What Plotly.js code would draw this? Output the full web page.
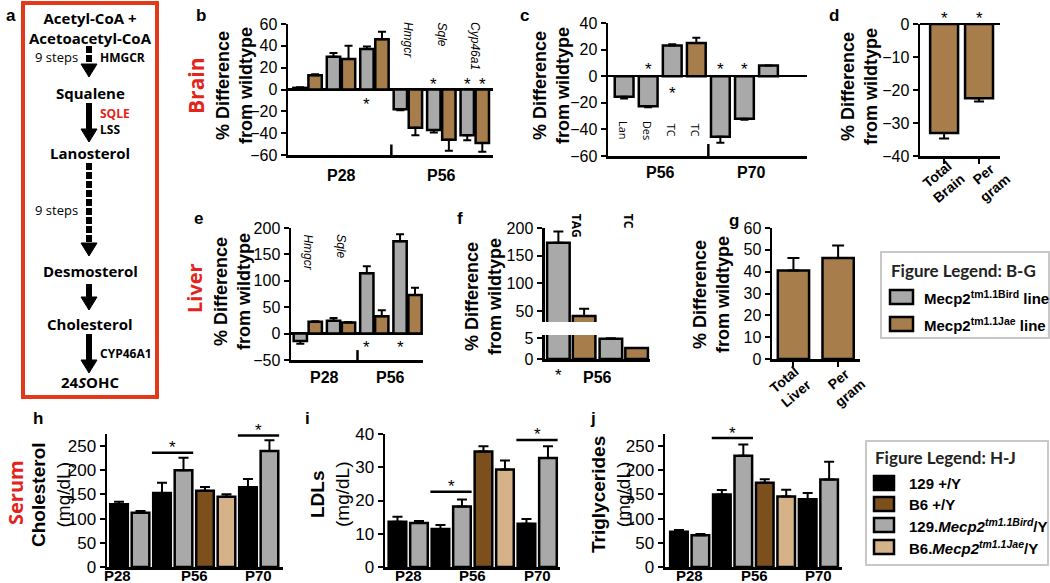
<!DOCTYPE html>
<html><head><meta charset="utf-8">
<script src="https://cdn.plot.ly/plotly-3.0.1.min.js"></script>
<style>html,body{margin:0;padding:0;background:#fff}#chart{width:1050px;height:583px}</style>
</head><body><div id="chart"></div>
<script>
// ================= DATA =================
// Panel a: cholesterol pathway
const compounds = ['Acetyl-CoA +<br>Acetoacetyl-CoA','Squalene','Lanosterol','Desmosterol','Cholesterol','24<i>S</i>OHC'];
const stepEnzymes = [['HMGCR'],['SQLE','LSS'],[],[],['CYP46A1']];
const stepCounts = ['9 steps','','9 steps','',''];
const stepDashed = [true,false,true,false,false];
const highlightedEnzymes = ['SQLE'];

// Lines (panels b-g)
const lineNames = ['Mecp2<sup>tm1.1Bird</sup> line','Mecp2<sup>tm1.1Jae</sup> line'];

// Panel b: Brain gene expression
const bCategories = ['P28 Hmgcr','P28 Sqle','P28 Cyp46a1','P56 Hmgcr','P56 Sqle','P56 Cyp46a1'];
const bGeneLabels = {'P56 Hmgcr':'Hmgcr','P56 Sqle':'Sqle','P56 Cyp46a1':'Cyp46a1'};
const bBird = [1.5, 30, 37, -18, -37, -42];
const bBirdErr = [0.5, 3.5, 2.5, 1, 2.5, 4.5];
const bJae = [13, 28, 46, -35, -46, -49];
const bJaeErr = [1, 12, 7, 7, 10, 8];
const bStarsBird = ['P28 Cyp46a1','P56 Sqle','P56 Cyp46a1'];
const bStarsJae = ['P56 Cyp46a1'];
const bGroups = ['P28','P56'];

// Panel c: Brain sterols
const cCategories = ['P56 Lan','P56 Des','P56 TC Bird','P56 TC Jae','P70 Lan','P70 Des','P70 TC'];
const cLabels = ['Lan','Des','TC','TC','','',''];
const cLine = ['Bird','Bird','Bird','Jae','Bird','Bird','Bird'];
const cValues = [-15.5, -22.5, 23, 25, -45.5, -32, 8];
const cErrors = [1.2, 0.8, 1, 4, 4.5, 0.8, 0];
const cStars = ['P56 Des','P56 TC Bird','P70 Lan','P70 Des'];
const cGroups = ['P56','P70'];

// Panel d: Brain weight
const dCategories = ['Total<br>Brain','Per<br>gram'];
const dValues = [-33, -22.5];
const dErrors = [1.7, 1];
const dStars = ['Total<br>Brain','Per<br>gram'];

// Panel e: Liver gene expression
const eCategories = ['P28 Hmgcr','P28 Sqle','P56 Hmgcr','P56 Sqle'];
const eGeneLabels = {'P28 Hmgcr':'Hmgcr','P28 Sqle':'Sqle'};
const eBird = [-14, 24.5, 114.5, 175];
const eBirdErr = [5, 5, 13, 13];
const eJae = [22.5, 21, 33, 73];
const eJaeErr = [1, 1, 11, 14];
const eStarsBird = ['P56 Hmgcr','P56 Sqle'];
const eGroups = ['P28','P56'];

// Panel f: Liver lipids (broken axis)
const fCategories = ['TAG','TC'];
const fBird = [173.5, 4.8];
const fBirdErr = [20, 0.1];
const fJae = [41, 2.6];
const fJaeErr = [13, 0];
const fStarsBird = ['TAG'];
const fGroup = 'P56';

// Panel g: Liver weight
const gCategories = ['Total<br>Liver','Per<br>gram'];
const gValues = [40.5, 46.3];
const gErrors = [5.8, 5.7];

// Panels h-j: Serum
const genotypes = ['129 +/Y','B6 +/Y','129.Mecp2/Y','B6.Mecp2/Y'];
const genotypeLabels = ['129 +/Y','B6 +/Y','129.<i>Mecp2</i><sup><i>tm1.1Bird</i></sup>/Y','B6.<i>Mecp2</i><sup><i>tm1.1Jae</i></sup>/Y'];
const serumAges = ['P28','P28','P56','P56','P56','P56','P70','P70'];
const serumGenotype = ['129 +/Y','129.Mecp2/Y','129 +/Y','129.Mecp2/Y','B6 +/Y','B6.Mecp2/Y','129 +/Y','129.Mecp2/Y'];
const serumGroups = ['P28','P56','P70'];
const cholValues = [130, 112, 153, 200, 157.5, 145, 165, 240];
const cholErrors = [5, 4, 21, 26, 8, 5.5, 17, 22];
const ldlValues = [13.6, 13.2, 11.4, 18.2, 34.7, 29.3, 13, 32.8];
const ldlErrors = [1.5, 0.6, 1.2, 2.1, 1.6, 2.7, 1.4, 3.5];
const tgValues = [73, 65.5, 150, 230, 174, 146, 140, 181];
const tgErrors = [3.5, 2.5, 9, 23.5, 7.6, 13.8, 13, 36.5];
const cholSig = [{age:'P56', level:236},{age:'P70', level:272}];
const ldlSig = [{age:'P56', level:22.6},{age:'P70', level:38.2}];
const tgSig = [{age:'P56', level:266.5}];

// ================= STYLE =================
const W = 1050, H = 583;
const ARIAL = 'Liberation Sans, Arial, sans-serif';
const OPEN = 'Open Sans, sans-serif';
const RED = '#e3241b';
const lineColors = {Bird:'#a9a9a9', Jae:'#a67d4b'};
const genotypeColors = {'129 +/Y':'#000000','B6 +/Y':'#7c501c','129.Mecp2/Y':'#a9a9a9','B6.Mecp2/Y':'#d5b287'};
const px = x => x / W;
const py = y => 1 - y / H;
const xdom = (a, b) => [a / W, b / W];
const ydom = (top, bottom) => [1 - bottom / H, 1 - top / H];

const annotations = [];
const shapes = [];
function note(o) {
  annotations.push(Object.assign({showarrow:false, xanchor:'center', yanchor:'middle'}, o));
}
function ptext(x, y, text, font, extra) {
  note(Object.assign({xref:'paper', yref:'paper', x:px(x), y:py(y), text, font}, extra || {}));
}

function errUp(v, e) { return v.map((x, i) => x >= 0 ? e[i] : 0); }
function errDown(v, e) { return v.map((x, i) => x < 0 ? e[i] : 0); }
function bars(x, y, err, color, xa, ya, width, offset, capw) {
  const t = {type:'bar', x, y, xaxis:xa, yaxis:ya, width,
    marker:{color, line:{color:'#000', width:2.5}},
    error_y:{type:'data', symmetric:false, array:errUp(y, err), arrayminus:errDown(y, err), color:'#000', thickness:2, width:capw || 4},
    hoverinfo:'skip', showlegend:false};
  if (offset !== undefined) t.offset = offset;
  return t;
}

function catX(cats, dom, range, anchor, extra) {
  return Object.assign({type:'category', categoryorder:'array', categoryarray:cats, domain:dom, range, anchor,
    showline:true, linecolor:'#000', linewidth:2.5, ticks:'', showticklabels:false, showgrid:false, zeroline:false, fixedrange:true}, extra || {});
}
function linY(dom, range, dtick, anchor, extra) {
  return Object.assign({domain:dom, range, dtick, tick0:0, anchor, showline:true, linecolor:'#000', linewidth:2.5,
    ticks:'outside', ticklen:5, tickwidth:2, tickcolor:'#000', showgrid:false, zeroline:false, fixedrange:true,
    tickfont:{family:ARIAL, size:16, color:'#000'}}, extra || {});
}
const zl = {zeroline:true, zerolinecolor:'#000', zerolinewidth:2.5};
const DIFF = '% Difference<br>from wildtype';
const titleFont = {family:ARIAL, size:18, weight:'bold', color:'#000'};
const grpFont = {family:ARIAL, size:16, weight:'bold', color:'#000'};
const starFont = {family:ARIAL, size:17, color:'#000'};

// rotated y-axis title placed beside the axis
function yTitle(xc, yc, text, font) { ptext(xc, yc, text, font || titleFont, {textangle:-90}); }

// group label under axis (category index mean)
function groupLabel(cats, group, xa, ya, dist, font, xshift) {
  const idx = cats.map((c, i) => c.startsWith(group) ? i : -1).filter(i => i >= 0);
  const mid = idx.reduce((s, v) => s + v, 0) / idx.length;
  note({xref:xa, yref:ya + ' domain', x:mid, y:0, yshift:-dist, xshift:xshift || 0, text:group, font:font || grpFont});
}
// star on opposite side of zero line
function star(cats, cat, shift, values, xa, ya, gap) {
  const i = cats.indexOf(cat);
  const v = values[i];
  const ys = v >= 0 ? -(gap + 5) : (gap - 5);
  note({xref:xa, yref:ya, x:i + shift, y:0, yshift:ys, text:'*', font:starFont});
}
function sepTick(xa, ya, at, len) {
  shapes.push({type:'line', xref:xa, yref:ya + ' domain', x0:at, x1:at, y0:0, y1:len, line:{color:'#000', width:2.5}});
}
// rotated category labels under an axis
function slantLabels(cats, xa, ya, dist, shifts) {
  cats.forEach((c, i) => note({xref:xa, yref:ya + ' domain', x:i, y:0, xshift:shifts[i], yshift:-dist, text:c, textangle:-40,
    font:{family:ARIAL, size:14, weight:'bold', color:'#000'}}));
}

const traces = [];
const layout = {width:W, height:H, margin:{l:0, r:0, t:0, b:0}, paper_bgcolor:'#fff', plot_bgcolor:'rgba(0,0,0,0)',
  showlegend:false, barmode:'group', font:{family:ARIAL, color:'#000'}};

// ---------- Panel b ----------
layout.xaxis = catX(bCategories, xdom(288, 493), [-0.59, 5.54], 'y');
layout.yaxis = linY(ydom(24, 155), [-60, 60], 20, 'x', zl);
traces.push(bars(bCategories, bBird, bBirdErr, lineColors.Bird, 'x', 'y', 0.40, -0.43));
traces.push(bars(bCategories, bJae, bJaeErr, lineColors.Jae, 'x', 'y', 0.40, 0.02));
bStarsBird.forEach(c => star(bCategories, c, -0.23, bBird, 'x', 'y', 10));
bStarsJae.forEach(c => star(bCategories, c, 0.22, bJae, 'x', 'y', 10));
Object.keys(bGeneLabels).forEach(c => note({xref:'x', yref:'y domain', x:bCategories.indexOf(c), y:1, yanchor:'top', yshift:4,
  text:'<i>' + bGeneLabels[c] + '</i>', textangle:90, font:{family:ARIAL, size:12, color:'#000'}}));
bGroups.forEach(g => groupLabel(bCategories, g, 'x', 'y', 20));
sepTick('x', 'y', 2.5, 0.08);
yTitle(234, 86, DIFF);

// ---------- Panel c ----------
layout.xaxis2 = catX(cCategories, xdom(608, 807), [-0.67, 7.6], 'y2');
layout.yaxis2 = linY(ydom(23, 156), [-60, 40], 20, 'x2', zl);
traces.push(bars(cCategories, cValues, cErrors, cLine.map(l => lineColors[l]), 'x2', 'y2', 0.78));
cStars.forEach(c => star(cCategories, c, 0, cValues, 'x2', 'y2', 12));
cLabels.forEach((l, i) => { if (l) note({xref:'x2', yref:'y2 domain', x:i, y:0.195, text:l, textangle:90, font:{family:OPEN, size:11, color:'#000'}}); });
groupLabel(cCategories, 'P56', 'x2', 'y2', 16);
groupLabel(cCategories, 'P70', 'x2', 'y2', 16, null, 7);
sepTick('x2', 'y2', 3.5, 0.09);
yTitle(551, 86, DIFF);

// ---------- Panel d ----------
layout.xaxis3 = catX(dCategories, xdom(920, 1000), [-0.69, 1.6], 'y3',
  {ticks:'outside', ticklen:5, tickwidth:2, tickcolor:'#000'});
layout.yaxis3 = linY(ydom(24, 156), [-40, 0], 10, 'x3', zl);
traces.push(bars(dCategories, dValues, dErrors, lineColors.Jae, 'x3', 'y3', 0.8, undefined, 5));
dStars.forEach(c => star(dCategories, c, 0, dValues, 'x3', 'y3', 11));
slantLabels(dCategories, 'x3', 'y3', 25, [-1, 10]);
yTitle(859, 87, DIFF);

// ---------- Panel e ----------
layout.xaxis4 = catX(eCategories, xdom(291, 423), [-0.5, 3.47], 'y4');
layout.yaxis4 = linY(ydom(228, 360), [-50, 200], 50, 'x4', zl);
traces.push(bars(eCategories, eBird, eBirdErr, lineColors.Bird, 'x4', 'y4', 0.40, -0.42));
traces.push(bars(eCategories, eJae, eJaeErr, lineColors.Jae, 'x4', 'y4', 0.40, 0.03));
eStarsBird.forEach(c => star(eCategories, c, -0.22, eBird, 'x4', 'y4', 9));
Object.keys(eGeneLabels).forEach(c => note({xref:'x4', yref:'y4 domain', x:eCategories.indexOf(c), y:1, yanchor:'top', yshift:-4,
  text:'<i>' + eGeneLabels[c] + '</i>', textangle:90, font:{family:ARIAL, size:12, color:'#000'}}));
eGroups.forEach(g => groupLabel(eCategories, g, 'x4', 'y4', 17));
sepTick('x4', 'y4', 1.5, 0.075);
yTitle(232, 292, DIFF);

// ---------- Panel f (broken axis) ----------
layout.xaxis5 = catX(fCategories, xdom(545, 650), [-0.5, 1.5], 'y5');
layout.yaxis5 = linY(ydom(335, 359), [0, 5.7], 5, 'x5', {linewidth:3.5});
layout.xaxis6 = catX(fCategories, xdom(545, 650), [-0.5, 1.5], 'y6', {visible:false, showline:false});
layout.yaxis6 = linY(ydom(228, 322), [30, 200], 50, 'x6', {tickvals:[50, 100, 150, 200], linewidth:3.5});
traces.push(bars(fCategories, fBird, fBirdErr, lineColors.Bird, 'x5', 'y5', 0.43, -0.46, 5));
traces.push(bars(fCategories, fJae, fJaeErr, lineColors.Jae, 'x5', 'y5', 0.43, 0.03, 5));
traces.push(bars(fCategories, fBird, fBirdErr, lineColors.Bird, 'x6', 'y6', 0.43, -0.46, 5));
traces.push(bars(fCategories, fJae, fJaeErr, lineColors.Jae, 'x6', 'y6', 0.43, 0.03, 5));
fStarsBird.forEach(c => star(fCategories, c, -0.25, fBird, 'x5', 'y5', 11));
fCategories.forEach((c, i) => note({xref:'x6', yref:'y6 domain', x:i, y:1, xshift:5, yanchor:'top', yshift:16,
  text:c, textangle:90, font:{family:OPEN, size:12, weight:'bold', color:'#000'}}));
note({xref:'x5', yref:'y5 domain', x:0.5, y:0, yshift:-19, text:fGroup, font:grpFont});
yTitle(483, 297, DIFF);

// ---------- Panel g ----------
layout.xaxis7 = catX(gCategories, xdom(772, 860), [-0.48, 1.49], 'y7',
  {ticks:'outside', ticklen:5, tickwidth:2, tickcolor:'#000'});
layout.yaxis7 = linY(ydom(228, 359), [0, 60], 10, 'x7');
traces.push(bars(gCategories, gValues, gErrors, lineColors.Jae, 'x7', 'y7', 0.7, undefined, 6));
slantLabels(gCategories, 'x7', 'y7', 27, [-3, 6]);
yTitle(711, 295, DIFF);

// ---------- Panels h, i, j ----------
const serumCategories = serumAges.map((a, i) => a + ' ' + serumGenotype[i]);
const serumColors = serumGenotype.map(g => genotypeColors[g]);
const serumGrpFont = {family:ARIAL, size:15, weight:'bold', color:'#000'};
function serumPanel(n, dom, range, dtick, vals, errs, sig, title, titleX, firstShift) {
  const xa = 'x' + n, ya = 'y' + n;
  layout['xaxis' + n] = catX(serumCategories, dom, range, ya);
  layout['yaxis' + n] = linY(ydom(434, 567), [0, dtick === 10 ? 40 : 275], dtick, xa,
    {tickfont:{family:ARIAL, size:17, color:'#000'}});
  traces.push(bars(serumCategories, vals, errs, serumColors, xa, ya, 0.82, undefined, 5));
  serumGroups.forEach((g, k) => groupLabel(serumCategories, g, xa, ya, 8, serumGrpFont, k === 0 ? firstShift : 0));
  sig.forEach(s => {
    const i0 = serumCategories.indexOf(s.age + ' 129 +/Y');
    const i1 = serumCategories.indexOf(s.age + ' 129.Mecp2/Y');
    shapes.push({type:'line', xref:xa, yref:ya, x0:i0 - 0.47, x1:i1 + 0.45, y0:s.level, y1:s.level, line:{color:'#000', width:2.5}});
    note({xref:xa, yref:ya, x:(i0 + i1) / 2, y:s.level, yshift:5, text:'*', font:starFont});
  });
  yTitle(titleX, 495, title, {family:ARIAL, size:19, color:'#000'});
}
serumPanel(8, xdom(107, 283), [-0.56, 7.63], 50, cholValues, cholErrors, cholSig, '<b>Cholesterol</b><br>(mg/dL)', 51, -12);
serumPanel(9, xdom(385, 560), [-0.58, 7.56], 10, ldlValues, ldlErrors, ldlSig, '<b>LDLs</b><br>(mg/dL)', 330, 0);
serumPanel(10, xdom(665, 842), [-0.65, 7.6], 50, tgValues, tgErrors, tgSig, '<b>Triglycerides</b><br>(mg/dL)', 611, 0);

// ---------- Tissue labels ----------
const tissueFont = {family:OPEN, size:21, weight:'bold', color:RED};
ptext(196, 86, 'Brain', tissueFont, {textangle:-90});
ptext(195, 288, 'Liver', Object.assign({}, tissueFont, {size:20}), {textangle:-90});
ptext(15, 493, 'Serum', Object.assign({}, tissueFont, {size:20}), {textangle:-90});

// ---------- Panel letters ----------
const letterFont = {family:ARIAL, size:17, weight:'bold', color:'#000'};
[['a', 11, 15], ['b', 201, 15], ['c', 524, 15], ['d', 834, 15], ['e', 198, 218], ['f', 460, 218], ['g', 734, 220],
 ['h', 38, 418], ['i', 307, 418], ['j', 593, 418]].forEach(l => ptext(l[1], l[2], l[0], letterFont));

// ---------- Panel a pathway ----------
shapes.push({type:'rect', xref:'paper', yref:'paper', x0:px(23), x1:px(157), y0:py(3), y1:py(397), line:{color:'#e2391b', width:4}});
const compoundY = [28, 93, 153, 271, 324, 382];
const arrowSpan = [[46, 77], [103, 142], [163, 256], [284, 310], [334, 373]];
const enzymeY = [58, 122, null, null, 353];
const stepCountY = [57, null, 210, null, null];
const AX = 89;
compounds.forEach((c, i) => ptext(90, compoundY[i], c, {family:OPEN, size:15, weight:'bold', color:'#000'}));
arrowSpan.forEach((s, i) => {
  shapes.push({type:'line', xref:'paper', yref:'paper', x0:px(AX), x1:px(AX), y0:py(s[0]), y1:py(s[1] - 11),
    line:{color:'#000', width:6, dash:stepDashed[i] ? '7px,2px' : 'solid'}});
  shapes.push({type:'path', xref:'paper', yref:'paper', fillcolor:'#000', line:{color:'#000', width:1},
    path:'M' + px(AX - 8) + ',' + py(s[1] - 13) + ' L' + px(AX + 8) + ',' + py(s[1] - 13) + ' L' + px(AX) + ',' + py(s[1]) + ' Z'});
  if (stepEnzymes[i].length) {
    const txt = stepEnzymes[i].map(e => highlightedEnzymes.includes(e) ? '<span style="color:' + RED + '">' + e + '</span>' : e).join('<br>');
    ptext(98, enzymeY[i], txt, {family:OPEN, size:12, weight:'bold', color:'#000'}, {xanchor:'left', align:'left'});
  }
  if (stepCounts[i]) ptext(56, stepCountY[i], stepCounts[i], {family:OPEN, size:13, color:'#000'});
});

// ---------- Legends ----------
const legTitleFont = {family:'Lato, Open Sans, sans-serif', size:17, weight:'bold', color:'#222'};
const legItemFont = {family:ARIAL, size:15, weight:'bold', color:'#000'};
function legend(box, titleText, titleY, items, colors, swX, swW, swH, itemY, textX) {
  shapes.push({type:'rect', xref:'paper', yref:'paper', x0:px(box[0]), x1:px(box[1]), y0:py(box[2]), y1:py(box[3]),
    line:{color:'#c8c8c8', width:2}, fillcolor:'rgba(0,0,0,0)'});
  ptext(swX, titleY, titleText, legTitleFont, {xanchor:'left'});
  items.forEach((t, k) => {
    shapes.push({type:'rect', xref:'paper', yref:'paper', x0:px(swX + 1), x1:px(swX + 1 + swW), y0:py(itemY[k] - swH / 2), y1:py(itemY[k] + swH / 2),
      fillcolor:colors[k], line:{color:'#000', width:2.5}});
    ptext(textX, itemY[k], t, legItemFont, {xanchor:'left'});
  });
}
legend([881, 1049, 252, 338], 'Figure Legend: B-G', 270, lineNames, [lineColors.Bird, lineColors.Jae], 889, 23, 14, [297, 324], 922);
legend([866, 1048, 441, 565], 'Figure Legend: H-J', 457, genotypeLabels, genotypes.map(g => genotypeColors[g]), 873, 20, 14, [483, 504, 525, 547], 907);

layout.annotations = annotations;
layout.shapes = shapes;
Plotly.newPlot('chart', traces, layout, {displayModeBar:false, staticPlot:true});
</script>
</body></html>
